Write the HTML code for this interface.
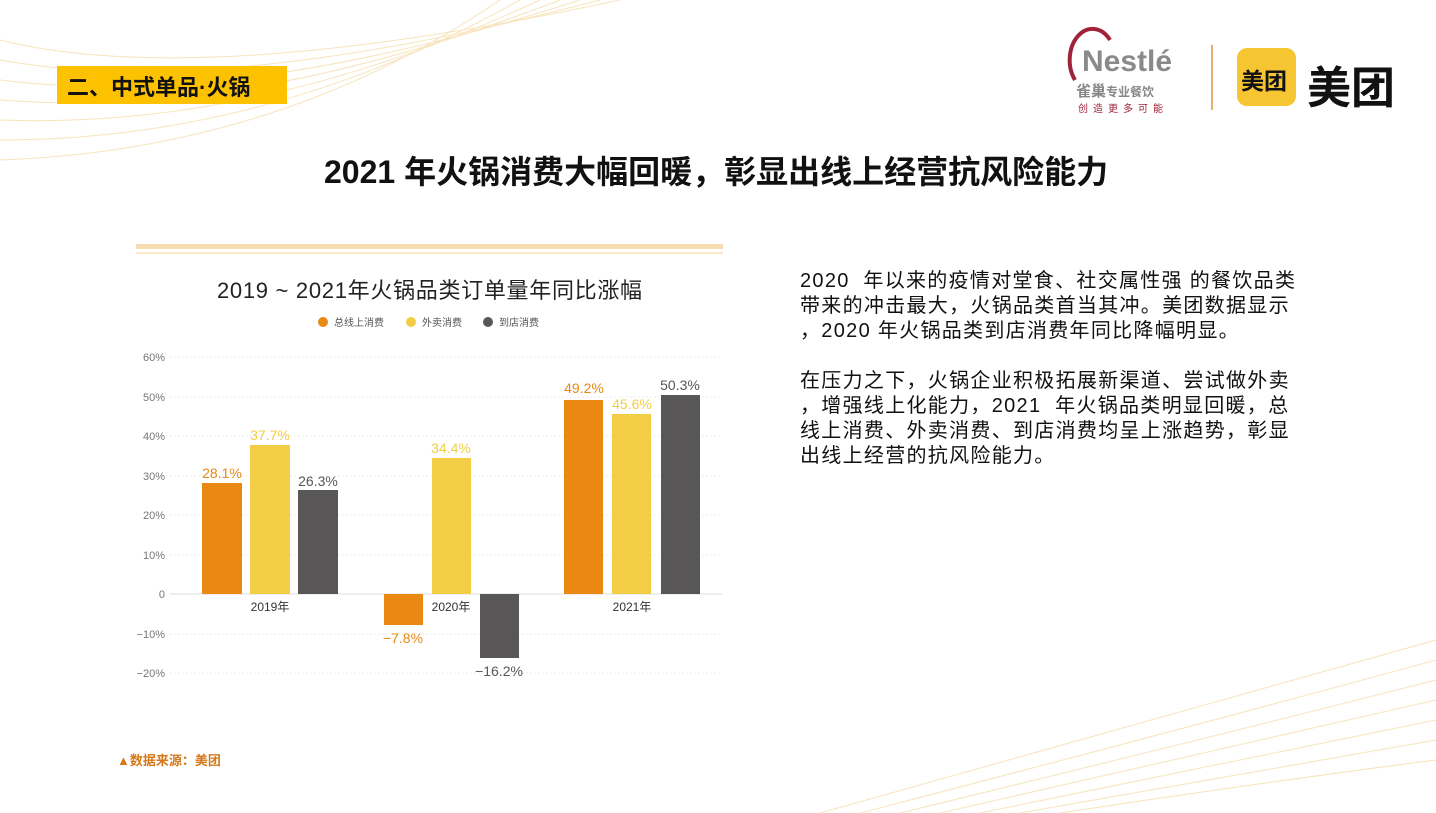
<!DOCTYPE html>
<html><head><meta charset="utf-8"><style>
body{margin:0;width:1436px;height:813px;overflow:hidden;background:#fff;font-family:"Liberation Sans","Noto Sans CJK SC",sans-serif;position:relative}
.a{position:absolute;white-space:nowrap}
</style></head><body>
<svg class="a" style="left:0;top:0" width="1436" height="813">
<g fill="none" stroke="#f5d9a0" stroke-width="1" opacity="0.7">
<path d="M0 40 Q200 90 620 0"/><path d="M0 60 Q220 100 600 0"/><path d="M0 80 Q240 110 580 0"/><path d="M0 100 Q250 120 560 0"/><path d="M0 120 Q260 130 540 0"/><path d="M0 140 Q270 140 520 0"/><path d="M0 160 Q280 150 500 0"/>
<path d="M820 813 Q1150 720 1436 640"/><path d="M860 813 Q1180 730 1436 660"/><path d="M900 813 Q1200 740 1436 680"/><path d="M940 813 Q1220 750 1436 700"/><path d="M980 813 Q1240 760 1436 720"/><path d="M1020 813 Q1260 770 1436 740"/><path d="M1060 813 Q1280 780 1436 760"/>
</g>
<rect x="136" y="244" width="587" height="5" fill="#f7dcb0"/><rect x="136" y="252" width="587" height="2" fill="#fbe9cf"/>
<g stroke="#eee" stroke-dasharray="2,2"><line x1="170" x2="722" y1="357" y2="357"/><line x1="170" x2="722" y1="397" y2="397"/><line x1="170" x2="722" y1="436" y2="436"/><line x1="170" x2="722" y1="476" y2="476"/><line x1="170" x2="722" y1="515" y2="515"/><line x1="170" x2="722" y1="555" y2="555"/><line x1="170" x2="722" y1="634" y2="634"/><line x1="170" x2="722" y1="673" y2="673"/></g>
<line x1="170" x2="722" y1="594" y2="594" stroke="#ddd"/>
<g font-size="11" fill="#777" text-anchor="end" font-family="Liberation Sans, sans-serif">
<text x="165" y="361">60%</text><text x="165" y="401">50%</text><text x="165" y="440">40%</text><text x="165" y="480">30%</text><text x="165" y="519">20%</text><text x="165" y="559">10%</text><text x="165" y="598">0</text><text x="165" y="638">−10%</text><text x="165" y="677">−20%</text></g>
<rect x="202" y="483" width="40" height="111" fill="#e98813"/><rect x="250" y="445" width="40" height="149" fill="#f3cd45"/><rect x="298" y="490" width="40" height="104" fill="#585657"/>
<rect x="384" y="594" width="39" height="31" fill="#e98813"/><rect x="432" y="458" width="39" height="136" fill="#f3cd45"/><rect x="480" y="594" width="39" height="64" fill="#585657"/>
<rect x="564" y="400" width="39" height="194" fill="#e98813"/><rect x="612" y="414" width="39" height="180" fill="#f3cd45"/><rect x="661" y="395" width="39" height="199" fill="#585657"/>
<g font-size="14" text-anchor="middle">
<text x="222" y="478" fill="#e98813">28.1%</text><text x="270" y="440" fill="#f3cd45">37.7%</text><text x="318" y="486" fill="#585657">26.3%</text>
<text x="403" y="643" fill="#e98813">−7.8%</text><text x="451" y="453" fill="#f3cd45">34.4%</text><text x="499" y="676" fill="#585657">−16.2%</text>
<text x="584" y="393" fill="#e98813">49.2%</text><text x="632" y="409" fill="#f3cd45">45.6%</text><text x="680" y="390" fill="#585657">50.3%</text>
</g>
<g font-size="12" fill="#333" text-anchor="middle"><text x="270" y="611">2019年</text><text x="451" y="611">2020年</text><text x="632" y="611">2021年</text></g>
<circle cx="323" cy="322" r="5" fill="#e98813"/><circle cx="411" cy="322" r="5" fill="#f3cd45"/><circle cx="488" cy="322" r="5" fill="#585657"/>
<g font-size="10" fill="#555"><text x="334" y="326">总线上消费</text><text x="422" y="326">外卖消费</text><text x="499" y="326">到店消费</text></g>
<line x1="1212" y1="45" x2="1212" y2="110" stroke="#e8b070" stroke-width="2"/>
<rect x="1237" y="48" width="59" height="58" rx="10" fill="#f6c532"/>
<path d="M1075 80 A22 30 0 0 1 1110 40" fill="none" stroke="#a0233a" stroke-width="4"/>
</svg>
<div class="a" style="left:57px;top:66px;width:230px;height:38px;background:#fcc200"></div>
<div class="a" style="left:67px;top:70px;font-size:22px;font-weight:bold;color:#111">二、中式单品·火锅</div>
<div class="a" style="left:324px;top:147px;font-size:32px;font-weight:bold;color:#111">2021 年火锅消费大幅回暖，彰显出线上经营抗风险能力</div>
<div class="a" style="left:217px;top:273px;font-size:22px;color:#222;letter-spacing:0.7px">2019 ~ 2021年火锅品类订单量年同比涨幅</div>
<div class="a" style="left:1082px;top:45px;font-size:30px;font-weight:bold;color:#8a8a8a">Nestlé</div>
<div class="a" style="left:1076px;top:80px;font-size:15px;color:#888;font-weight:bold">雀巢<span style="font-size:12px">专业餐饮</span></div>
<div class="a" style="left:1078px;top:100px;font-size:10px;color:#a0233a;letter-spacing:5px">创造更多可能</div>
<div class="a" style="left:1241px;top:62px;font-size:23px;font-weight:bold;color:#111">美团</div>
<div class="a" style="left:1307px;top:52px;font-size:44px;font-weight:bold;color:#111">美团</div>
<div class="a" style="left:800px;top:269px;font-size:20px;line-height:25px;color:#111;letter-spacing:1.3px">2020&nbsp; 年以来的疫情对堂食、社交属性强 的餐饮品类<br>带来的冲击最大，火锅品类首当其冲。美团数据显示<br>，2020 年火锅品类到店消费年同比降幅明显。<br><br>在压力之下，火锅企业积极拓展新渠道、尝试做外卖<br>，增强线上化能力，2021&nbsp; 年火锅品类明显回暖，总<br>线上消费、外卖消费、到店消费均呈上涨趋势，彰显<br>出线上经营的抗风险能力。</div>
<div class="a" style="left:117px;top:750px;font-size:13px;font-weight:bold;color:#d4781a">▲数据来源：美团</div>
</body></html>
